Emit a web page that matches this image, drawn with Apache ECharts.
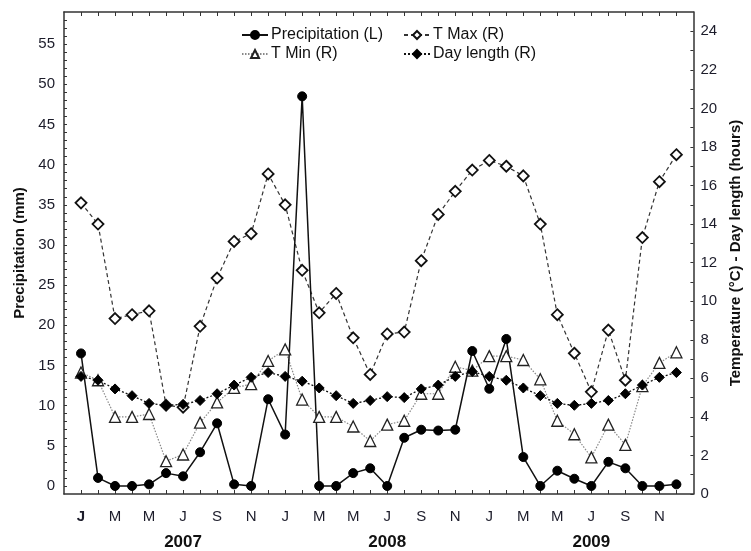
<!DOCTYPE html>
<html>
<head>
<meta charset="utf-8">
<script src="https://cdn.jsdelivr.net/npm/echarts@6/dist/echarts.min.js"></script>
<style>
  html, body { margin: 0; padding: 0; background: #fff; }
  #main { width: 751px; height: 551px; }
</style>
</head>
<body>
<div id="main"></div>
<script>
// month letters and years on the x axis
const monthLetters = ['J', 'F', 'M', 'A', 'M', 'J', 'J', 'A', 'S', 'O', 'N', 'D'];
const years = ['2007', '2008', '2009'];
const months = [];
years.forEach(y => monthLetters.forEach(m => months.push(m + ' ' + y)));

// monthly values Jan 2007 - Dec 2009
const precipitation = [16.5, 1.0, 0, 0, 0.2, 1.6, 1.2, 4.2, 7.8, 0.2, 0, 10.8,
                       6.4, 48.5, 0, 0, 1.6, 2.2, 0, 6.0, 7.0, 6.9, 7.0, 16.8,
                       12.1, 18.3, 3.6, 0, 1.9, 0.9, 0, 3.0, 2.2, 0, 0, 0.2];
const tMax = [15.1, 14.0, 9.1, 9.3, 9.5, 4.6, 4.5, 8.7, 11.2, 13.1, 13.5, 16.6,
              15.0, 11.6, 9.4, 10.4, 8.1, 6.2, 8.3, 8.4, 12.1, 14.5, 15.7, 16.8,
              17.3, 17.0, 16.5, 14.0, 9.3, 7.3, 5.3, 8.5, 5.9, 13.3, 16.2, 17.6];
const tMin = [6.3, 5.9, 4.0, 4.0, 4.15, 1.7, 2.05, 3.7, 4.75, 5.5, 5.7, 6.9,
              7.5, 4.9, 4.0, 4.0, 3.5, 2.75, 3.6, 3.8, 5.2, 5.2, 6.6, 6.4,
              7.15, 7.15, 6.95, 5.95, 3.8, 3.1, 1.9, 3.6, 2.55, 5.6, 6.8, 7.35];
const dayLength = [6.1, 5.9, 5.45, 5.1, 4.7, 4.6, 4.65, 4.85, 5.2, 5.65, 6.05, 6.3,
                   6.1, 5.85, 5.5, 5.1, 4.7, 4.85, 5.05, 5.0, 5.45, 5.65, 6.1, 6.35,
                   6.1, 5.9, 5.5, 5.1, 4.7, 4.6, 4.7, 4.85, 5.2, 5.65, 6.05, 6.3];

// tick labels
const precipTicks = [0, 5, 10, 15, 20, 25, 30, 35, 40, 45, 50, 55];
const tempTicks = [0, 2, 4, 6, 8, 10, 12, 14, 16, 18, 20, 22, 24];
const monthTickIdx = [0, 2, 4, 6, 8, 10, 12, 14, 16, 18, 20, 22, 24, 26, 28, 30, 32, 34];
const yearTickIdx = [6, 18, 30];

const FONT = 'Liberation Sans, Arial, sans-serif';
const pairs = arr => arr.map((v, i) => [i, v]);
const range = (a, b) => { const r = []; for (let i = a; i <= b; i++) r.push(i); return r; };
const axisLine = { show: true, onZero: false, lineStyle: { color: '#333', width: 1.5 } };

const myChart = echarts.init(document.getElementById('main'));
myChart.setOption({
    animation: false,
    backgroundColor: '#fff',
    textStyle: { fontFamily: FONT },
    grid: { left: 64, right: 56, top: 12, bottom: 53 },
    legend: [
        {
            orient: 'vertical', left: 236, top: 22, itemGap: 3,
            itemWidth: 26, itemHeight: 10,
            data: ['Precipitation (L)', 'T Min (R)'],
            textStyle: { fontSize: 16, color: '#111', fontFamily: FONT, lineHeight: 16, padding: [0, 0, 0, -2] }
        },
        {
            orient: 'vertical', left: 398, top: 22, itemGap: 3,
            itemWidth: 26, itemHeight: 10,
            data: ['T Max (R)', 'Day length (R)'],
            textStyle: { fontSize: 16, color: '#111', fontFamily: FONT, lineHeight: 16, padding: [0, 0, 0, -2] }
        }
    ],
    xAxis: [
        {
            type: 'value', min: -1, max: 36, position: 'bottom',
            axisLine: axisLine,
            axisTick: { show: true, inside: true, length: 4, customValues: range(0, 35), lineStyle: { color: '#333' } },
            axisLabel: {
                customValues: monthTickIdx, margin: 15, fontSize: 15, color: '#1c1c2a',
                formatter: v => v === 0 ? '{b|J}' : monthLetters[v % 12],
                rich: { b: { fontSize: 15, fontWeight: 'bold', color: '#1c1c2a' } }
            },
            splitLine: { show: false }
        },
        {
            type: 'value', min: -1, max: 36, position: 'top',
            axisLine: axisLine,
            axisTick: { show: true, inside: true, length: 4, customValues: range(0, 35), lineStyle: { color: '#333' } },
            axisLabel: { show: false },
            splitLine: { show: false }
        },
        {
            type: 'value', min: -1, max: 36, position: 'bottom', offset: 28,
            axisLine: { show: false, onZero: false },
            axisTick: { show: false },
            axisLabel: {
                customValues: yearTickIdx, margin: 12, fontSize: 17, fontWeight: 'bold', color: '#111',
                formatter: v => years[Math.floor(v / 12)]
            },
            splitLine: { show: false }
        }
    ],
    yAxis: [
        {
            type: 'value', min: -1, max: 59, position: 'left',
            name: 'Precipitation (mm)', nameLocation: 'middle', nameGap: 36, nameRotate: 90,
            nameTextStyle: { fontSize: 15, fontWeight: 'bold', color: '#111', fontFamily: FONT },
            axisLine: axisLine,
            axisTick: { show: true, inside: true, length: 3, customValues: range(0, 58), lineStyle: { color: '#333' } },
            axisLabel: { customValues: precipTicks, margin: 9, fontSize: 15, color: '#1c1c2a' },
            splitLine: { show: false }
        },
        {
            type: 'value', min: 0, max: 25, position: 'right',
            name: 'Temperature (°C) - Day length (hours)', nameLocation: 'middle', nameGap: 30, nameRotate: 90,
            nameTextStyle: { fontSize: 15, fontWeight: 'bold', color: '#111', fontFamily: FONT },
            axisLine: axisLine,
            axisTick: { show: true, inside: true, length: 3, customValues: range(0, 24), lineStyle: { color: '#333' } },
            axisLabel: { customValues: tempTicks, margin: 7, fontSize: 15, color: '#1c1c2a' },
            splitLine: { show: false }
        }
    ],
    series: [
        {
            name: 'T Max (R)', type: 'line', xAxisIndex: 0, yAxisIndex: 1,
            data: pairs(tMax),
            symbol: 'diamond', symbolSize: 11,
            lineStyle: { color: '#333', width: 1.2, type: [4, 3] },
            itemStyle: { color: '#fff', borderColor: '#111', borderWidth: 1.8 }
        },
        {
            name: 'T Min (R)', type: 'line', xAxisIndex: 0, yAxisIndex: 1,
            data: pairs(tMin),
            symbol: 'triangle', symbolSize: 11,
            lineStyle: { color: '#888', width: 1.2, type: [1.5, 1.5] },
            itemStyle: { color: '#fff', borderColor: '#222', borderWidth: 1.3 }
        },
        {
            name: 'Day length (R)', type: 'line', xAxisIndex: 0, yAxisIndex: 1,
            data: pairs(dayLength),
            symbol: 'diamond', symbolSize: 10,
            lineStyle: { color: '#111', width: 1.3, type: [2, 2] },
            itemStyle: { color: '#000', borderColor: '#000', borderWidth: 1 }
        },
        {
            name: 'Precipitation (L)', type: 'line', xAxisIndex: 0, yAxisIndex: 0,
            data: pairs(precipitation),
            symbol: 'circle', symbolSize: 9,
            lineStyle: { color: '#111', width: 1.5 },
            itemStyle: { color: '#000', borderColor: '#000', borderWidth: 1 }
        }
    ]
});
</script>
</body>
</html>
